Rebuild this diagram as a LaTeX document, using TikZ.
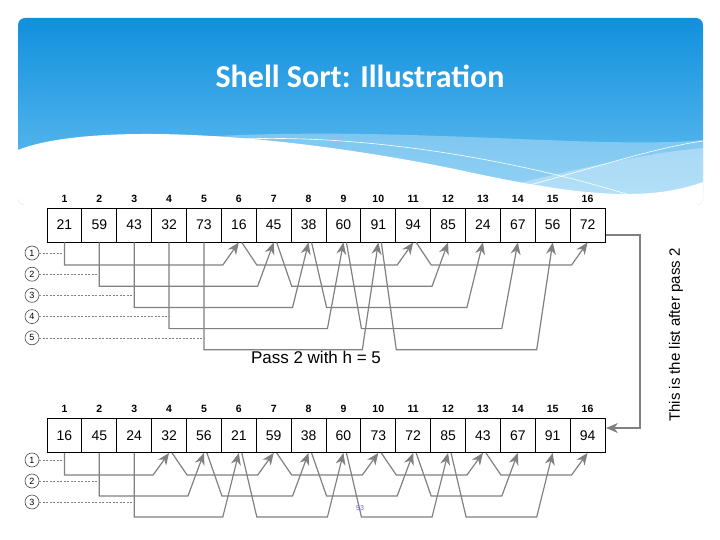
\documentclass[tikz,border=0pt]{standalone}
\usepackage{fontspec}
\setmainfont{Liberation Sans}
\newfontfamily\titlefont{Carlito}
\usetikzlibrary{arrows.meta,calc}
\definecolor{hdTop}{HTML}{1190DD}
\definecolor{hdBot}{HTML}{6AC2F2}
\definecolor{conncol}{HTML}{808080}
\tikzset{
 cell/.style={draw=black,line width=0.9pt,minimum width=34.875pt,minimum height=34pt,inner sep=0pt,font=\fontsize{14}{14}\selectfont},
 idx/.style={font=\bfseries\fontsize{10.5}{10.5}\selectfont,inner sep=0pt},
 circ/.style={circle,draw=black!70,line width=0.6pt,minimum size=14pt,inner sep=0pt,font=\fontsize{9}{9}\selectfont},
 conn/.style={draw=conncol,line width=1.2pt,-{Stealth[length=12pt,width=10pt]}},
 dline/.style={draw=conncol,line width=0.6pt,dash pattern=on 2pt off 1.5pt},
}
\begin{document}
\begin{tikzpicture}[x=1pt,y=-1pt]
\useasboundingbox (0,0) rectangle (720,540);
% header
\begin{scope}
\clip[rounded corners=7pt] (18,18) rectangle (703,205);
\shade[top color=hdTop,bottom color=hdBot] (18,18) rectangle (703,205);
\fill[white,opacity=0.3] (200,137) .. controls (400,125) and (600,150) .. (703,140) -- (703,205) -- (200,205) -- cycle;
\fill[white,opacity=0.3] (420,205) .. controls (520,185) and (620,155) .. (703,148) -- (703,205) -- cycle;
\draw[white,line width=0.6pt] (220,140) .. controls (380,130) and (560,170) .. (660,205);
\draw[white,line width=0.6pt] (450,205) .. controls (560,180) and (640,150) .. (703,141);
\fill[white] (18,150) .. controls (80,125) and (250,128) .. (450,168) .. controls (560,192) and (640,205) .. (703,182) -- (703,205) -- (18,205) -- cycle;
\end{scope}
\node[text=white,font=\titlefont\bfseries\fontsize{32}{32}\selectfont] (title) at (360,76) {Shell Sort: Illustration};
% arrays
\foreach[count=\i] \v in {21,59,43,32,73,16,45,38,60,91,94,85,24,67,56,72}{
 \node[cell] (t\i) at ({47+34.875*(\i-0.5)},225) {\v};
 \node[idx] (ti\i) at ({47+34.875*(\i-0.5)},199) {\i};
}
\foreach[count=\i] \v in {16,45,24,32,56,21,59,38,60,73,72,85,43,67,91,94}{
 \node[cell] (b\i) at ({47+34.875*(\i-0.5)},435.5) {\v};
 \node[idx] (bi\i) at ({47+34.875*(\i-0.5)},409) {\i};
}
% pass h=5 connectors
\foreach \g in {1,...,5}{
 \pgfmathsetmacro\L{265+21.2*(\g-1)}
 \coordinate (lv) at (0,\L);
 \node[circ] (tc\g) at (32,\L-12) {\g};
 \draw[dline] (tc\g.east) -- (t\g.south |- tc\g.east);
 \pgfmathtruncatemacro\n{\g+5}
 \draw[conn] (t\g.south) -- (t\g.south |- lv) -- ([xshift=-16pt]t\n.south |- lv) -- (t\n.south);
 \foreach \j in {1,2,3}{
  \pgfmathtruncatemacro\k{\g+5*\j}
  \pgfmathtruncatemacro\m{\k+5}
  \ifnum\m<17
  \draw[conn] ([xshift=3pt]t\k.south) -- ([xshift=18pt]t\k.south |- lv) -- ([xshift=-16pt]t\m.south |- lv) -- (t\m.south);
  \fi
 }
}
% pass h=3 connectors
\foreach \g in {1,2,3}{
 \pgfmathsetmacro\L{475+21*(\g-1)}
 \coordinate (lv) at (0,\L);
 \node[circ] (bc\g) at (32,\L-15) {\g};
 \draw[dline] (bc\g.east) -- (b\g.south |- bc\g.east);
 \pgfmathtruncatemacro\n{\g+3}
 \draw[conn] (b\g.south) -- (b\g.south |- lv) -- ([xshift=-16pt]b\n.south |- lv) -- (b\n.south);
 \foreach \j in {1,...,5}{
  \pgfmathtruncatemacro\k{\g+3*\j}
  \pgfmathtruncatemacro\m{\k+3}
  \ifnum\m<17
  \draw[conn] ([xshift=3pt]b\k.south) -- ([xshift=18pt]b\k.south |- lv) -- ([xshift=-16pt]b\m.south |- lv) -- (b\m.south);
  \fi
 }
}
% right arrow
\coordinate (r0) at (606,235);
\coordinate (r1) at (640,235);
\coordinate (r2) at (640,428);
\coordinate (r3) at (606,428);
\draw[conn] (r0) -- (r1) -- (r2) -- (r3);
\node[rotate=90,font=\fontsize{15}{15}\selectfont] (lbl) at (676,335) {This is the list after pass 2};
\node[font=\fontsize{17}{17}\selectfont] (pass) at (316,357) {Pass 2 with h = 5};
\node[text=black!40!blue!60,font=\fontsize{7}{7}\selectfont] (pg) at (360,508) {53};
\end{tikzpicture}
\end{document}
